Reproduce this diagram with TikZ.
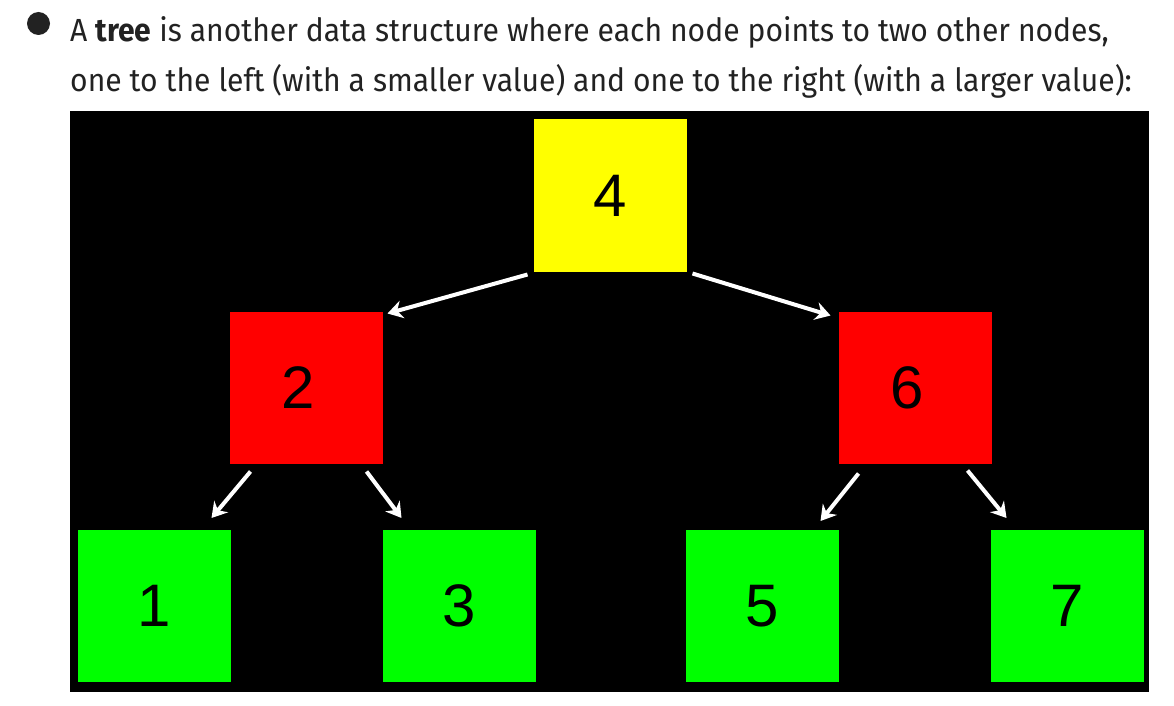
\documentclass[tikz,border=0pt]{standalone}
\usepackage{fontspec}
\setmainfont{Fira Sans}[FakeStretch=0.94]
\newfontfamily\digitfont{Liberation Sans}
\usetikzlibrary{arrows.meta,calc}
\definecolor{txt}{HTML}{222222}
\definecolor{yel}{HTML}{FFFF00}
\definecolor{rd}{HTML}{FF0000}
\definecolor{gr}{HTML}{00FF00}
\begin{document}
\begin{tikzpicture}[x=1pt,y=-1pt,
  box/.style={minimum width=153pt,minimum height=152pt,inner sep=0pt,outer sep=0pt,
    font=\digitfont\fontsize{60pt}{60pt}\selectfont,text=black},
  arr/.style={draw=white,line width=4pt,-{Stealth[length=15pt,width=18pt,inset=5pt]}},
  line/.style={anchor=base west,inner sep=0pt,text=txt,font=\fontsize{32pt}{32pt}\selectfont}
]
\useasboundingbox (0,0) rectangle (1174,706);
\fill[white] (0,0) rectangle (1174,706);
% bullet and text
\fill[txt] (38.5,23.5) circle (11.5pt);
\node[line] (l1) at (70,42) {A \textbf{tree} is another data structure where each node points to two other nodes,};
\node[line] (l2) at (70,92) {one to the left (with a smaller value) and one to the right (with a larger value):};
% background panel
\fill[black] (70,111) rectangle (1149,692);
% boxes
\node[box,fill=yel] (n4) at (610,195.5) {4};
\node[box,fill=rd] (n2) at (306,387.5) {\hspace*{-16pt}2};
\node[box,fill=rd] (n6) at (915,387.5) {\hspace*{-16pt}6};
\node[box,fill=gr] (n1) at (154,606) {1};
\node[box,fill=gr] (n3) at (459,606) {3};
\node[box,fill=gr] (n5) at (762,606) {5};
\node[box,fill=gr] (n7) at (1067,606) {7};
% arrows
\draw[arr] ($(n4.south west)+(-6,3)$) -- ($(n2.north east)+(5,2)$);
\draw[arr] ($(n4.south east)+(6,2)$) -- ($(n6.north west)+(-8,4)$);
\draw[arr] ($(n2.south west)+(21,8)$) -- ($(n1.north east)+(-19,-12)$);
\draw[arr] ($(n2.south east)+(-16,8)$) -- ($(n3.north west)+(19,-12)$);
\draw[arr] ($(n6.south west)+(20,10)$) -- ($(n5.north east)+(-18,-9)$);
\draw[arr] ($(n6.south east)+(-24,7)$) -- ($(n7.north west)+(16,-12)$);
\end{tikzpicture}
\end{document}
